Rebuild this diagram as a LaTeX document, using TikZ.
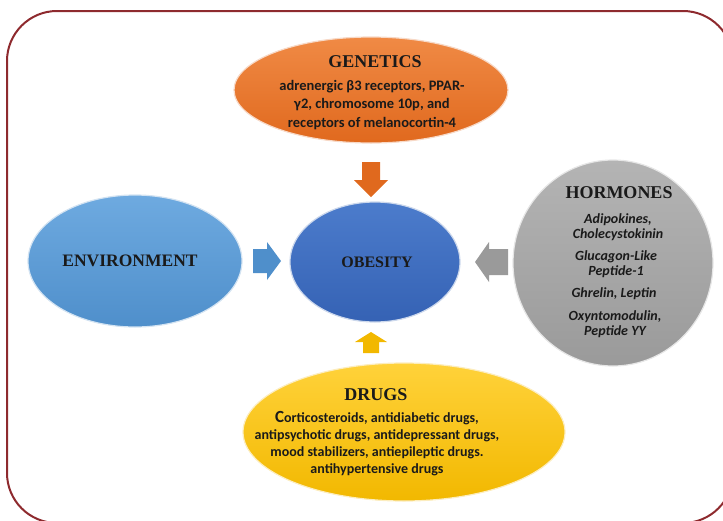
\documentclass[tikz,border=0pt]{standalone}
\usepackage{fontspec}
\setmainfont{Liberation Serif}
\newfontfamily\calfont{Carlito}
\usetikzlibrary{shapes.geometric}
\definecolor{frame}{HTML}{8E2A2E}
\definecolor{orangeA}{HTML}{F08A45}
\definecolor{orangeB}{HTML}{E0691E}
\definecolor{envA}{HTML}{6EAAE0}
\definecolor{envB}{HTML}{4F8FCB}
\definecolor{obeA}{HTML}{4C7CCC}
\definecolor{obeB}{HTML}{3562B4}
\definecolor{grayA}{HTML}{B4B4B4}
\definecolor{grayB}{HTML}{9A9A9A}
\definecolor{yelA}{HTML}{FFD23A}
\definecolor{yelB}{HTML}{F2B800}
\definecolor{txt}{HTML}{1A1A1A}
\tikzset{
  blob/.style={ellipse, inner sep=0pt, draw=white!75!#1, line width=1.2pt},
  ttl/.style={font=\fontsize{18}{20}\selectfont\bfseries, text=txt, inner sep=0pt},
  bodytxt/.style={font=\calfont\bfseries\fontsize{14}{17}\selectfont, text=txt, align=center, inner sep=0pt},
  blockarrow/.style={fill=#1, draw=none}
}
\begin{document}
\begin{tikzpicture}[x=1pt,y=-1pt]
\useasboundingbox (0,0) rectangle (723,520);
\draw[frame, line width=2pt, rounded corners=50pt] (7,11) rectangle (733,523);

% ellipses
\node[blob=orangeB, top color=orangeA, bottom color=orangeB, minimum width=274pt, minimum height=106pt] (gen) at (371,90) {};
\node[blob=envB, top color=envA, bottom color=envB, minimum width=214pt, minimum height=132pt] (env) at (135,261) {};
\node[blob=obeB, top color=obeA, bottom color=obeB, minimum width=170pt, minimum height=120pt] (obe) at (375,262) {};
\node[blob=grayB, top color=grayA, bottom color=grayB, minimum width=200pt, minimum height=206pt] (hor) at (613,263) {};
\node[blob=yelB, top color=yelA, bottom color=yelB, minimum width=322pt, minimum height=138pt] (drg) at (404,432) {};

% block arrows
\draw[blockarrow=orangeB] (362,162) -- (380,162) -- (380,180) -- (388,180) -- (371,197) -- (354,180) -- (362,180) -- cycle;
\draw[blockarrow=envB] (253,249) -- (267,249) -- (267,242) -- (281,261) -- (267,280) -- (267,273) -- (253,273) -- cycle;
\draw[blockarrow=grayB] (508,249) -- (489,249) -- (489,242) -- (475,262) -- (489,282) -- (489,275) -- (508,275) -- cycle;
\draw[blockarrow=yelB] (363,353) -- (379,353) -- (379,342) -- (387,342) -- (371,332) -- (355,342) -- (363,342) -- cycle;

% texts
\node[ttl] (genT) at (375,62) {GENETICS};
\node[bodytxt, font=\calfont\bfseries\fontsize{14.5}{18.3}\selectfont] (genB) at (372,105) {adrenergic β3 receptors, PPAR-\\γ2, chromosome 10p, and\\receptors of melanocortin-4};
\node[ttl, font=\fontsize{17.5}{20}\selectfont\bfseries] (envT) at (130,261) {ENVIRONMENT};
\node[ttl, font=\fontsize{16}{18}\selectfont\bfseries] (obeT) at (377,262) {OBESITY};
\node[ttl] (horT) at (619,193) {HORMONES};
\node[bodytxt, font=\calfont\bfseries\itshape\fontsize{14}{14.5}\selectfont] (horB1) at (618,227) {Adipokines,\\Cholecystokinin};
\node[bodytxt, font=\calfont\bfseries\itshape\fontsize{14}{14.5}\selectfont] (horB2) at (616,264) {Glucagon-Like\\Peptide-1};
\node[bodytxt, font=\calfont\bfseries\itshape\fontsize{14}{14.5}\selectfont] (horB3) at (614,294) {Ghrelin, Leptin};
\node[bodytxt, font=\calfont\bfseries\itshape\fontsize{14}{14.5}\selectfont] (horB4) at (615,324) {Oxyntomodulin,\\Peptide YY};
\node[ttl] (drgT) at (376,395) {DRUGS};
\node[bodytxt] (drgB) at (377,444) {{\fontsize{17}{17}\selectfont C}orticosteroids, antidiabetic drugs,\\antipsychotic drugs, antidepressant drugs,\\mood stabilizers, antiepileptic drugs.\\antihypertensive drugs};
\end{tikzpicture}
\end{document}
